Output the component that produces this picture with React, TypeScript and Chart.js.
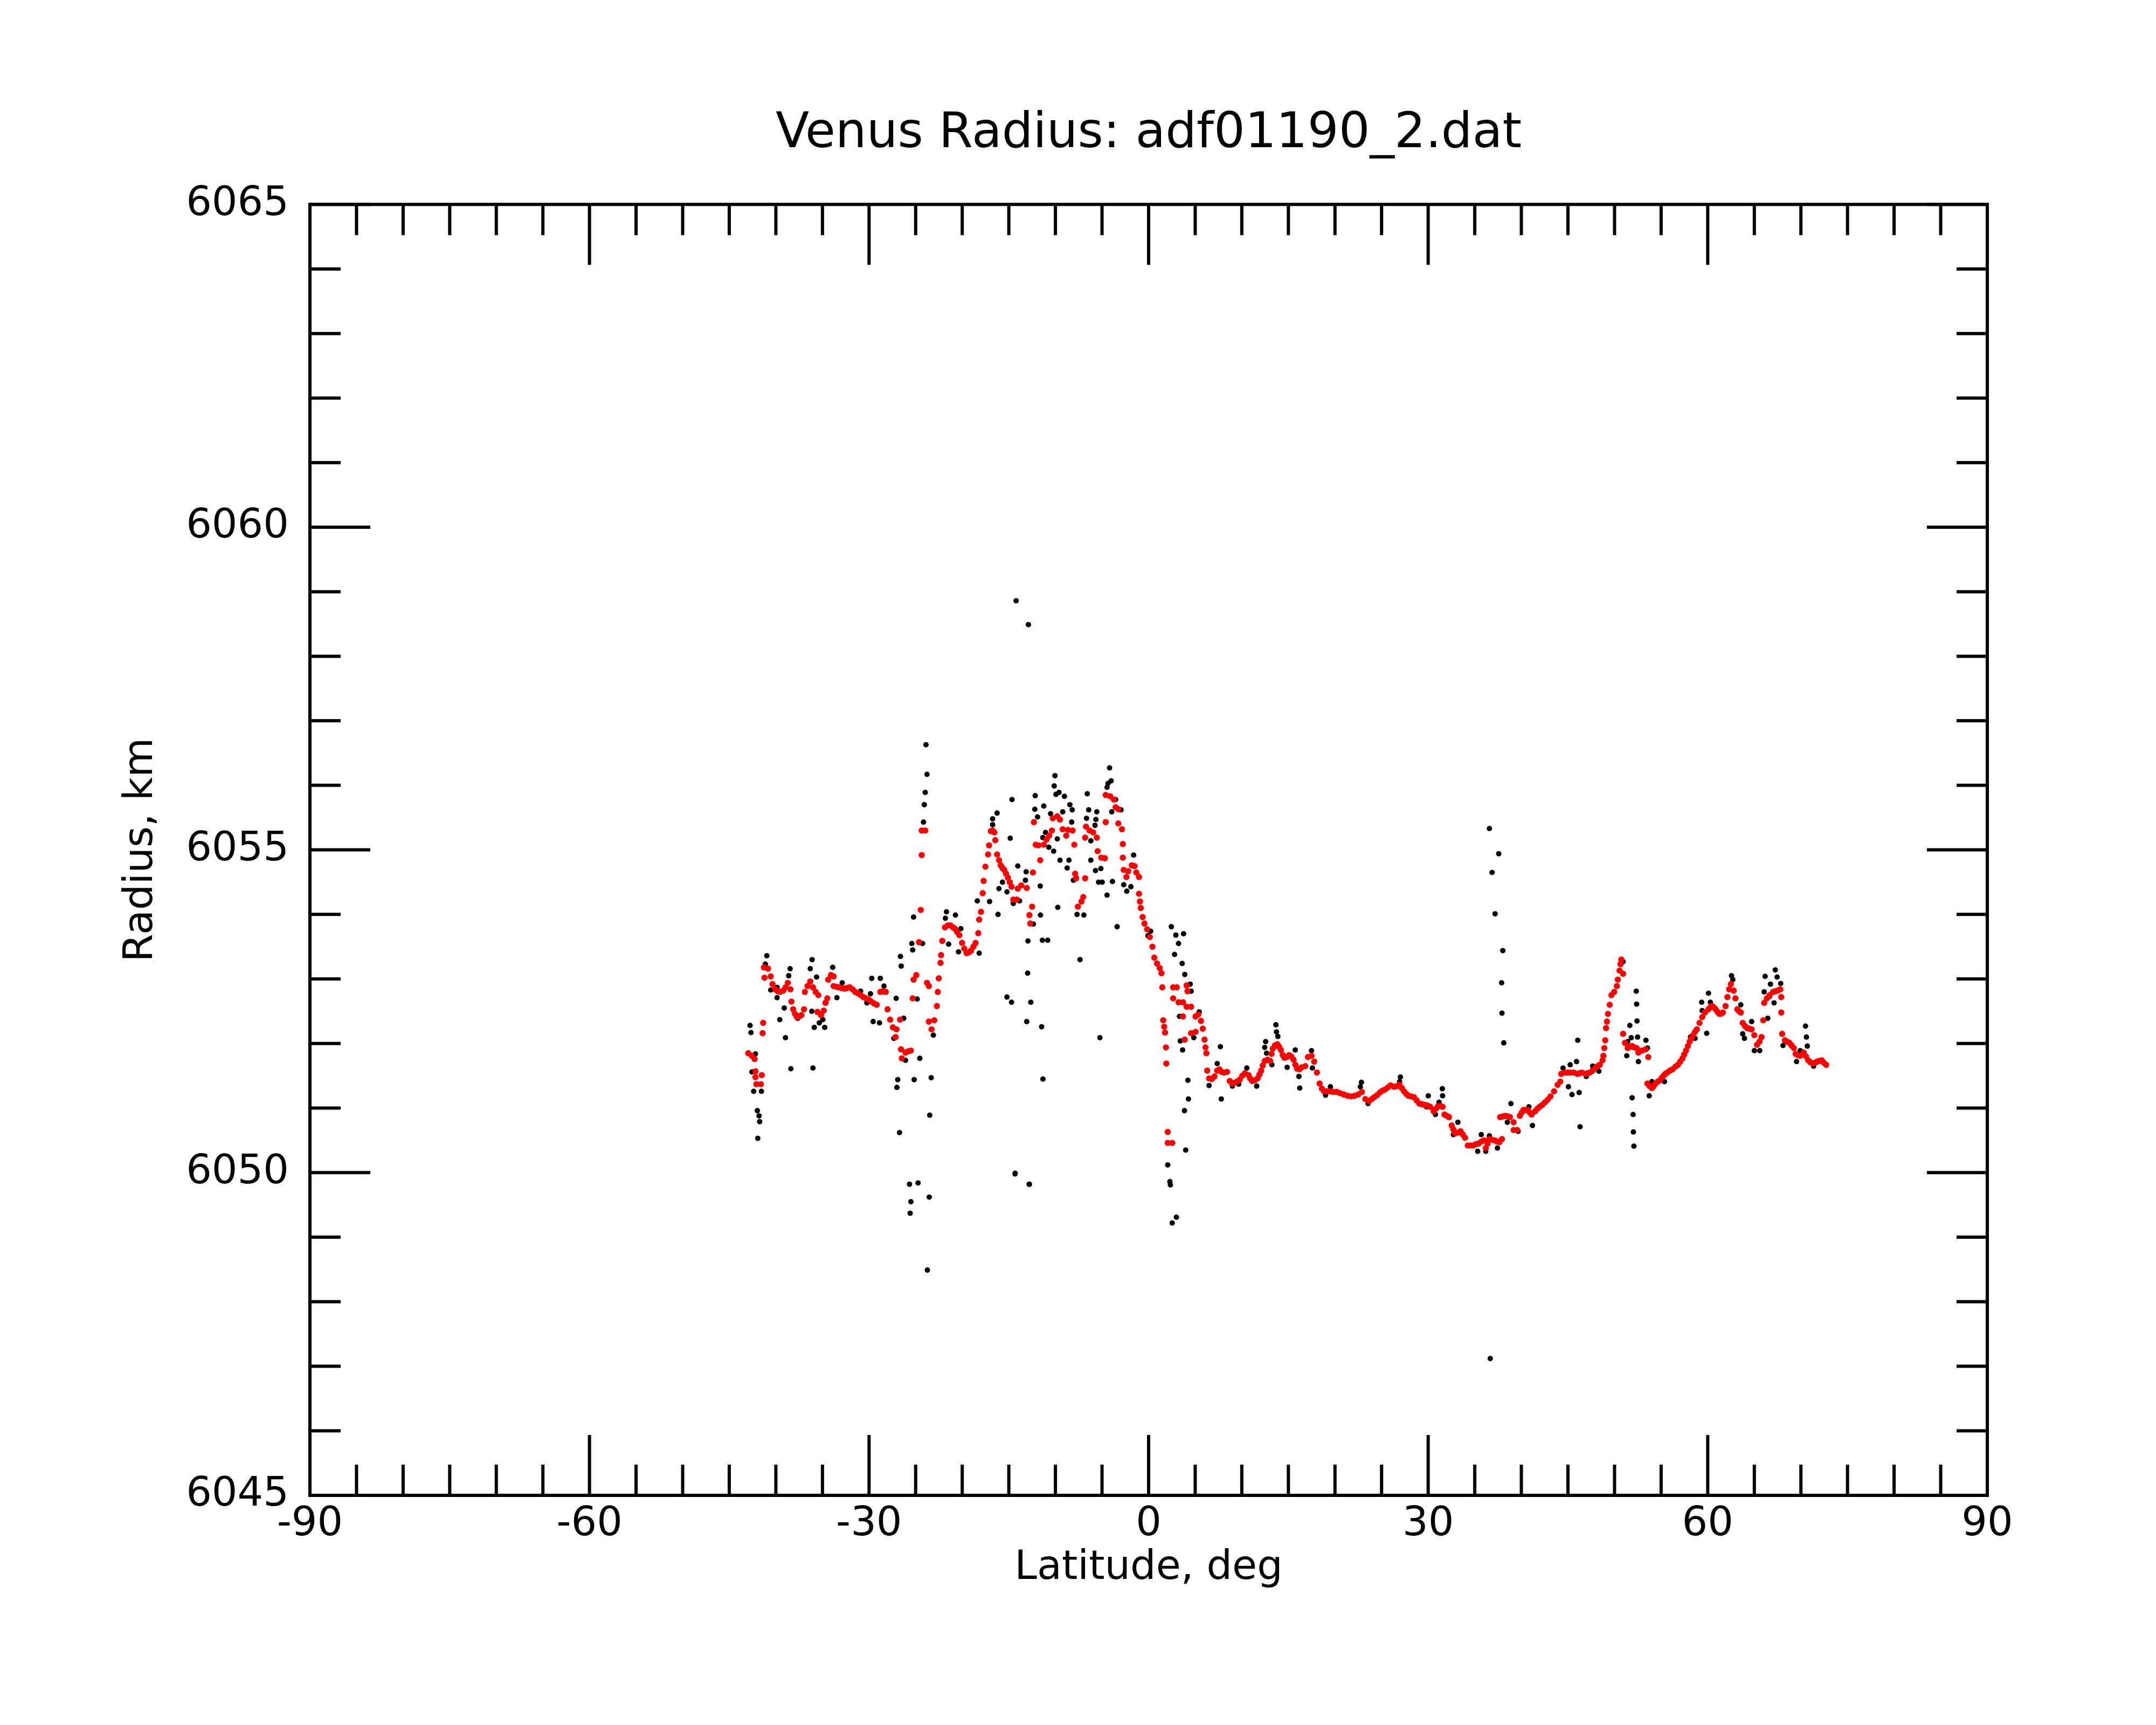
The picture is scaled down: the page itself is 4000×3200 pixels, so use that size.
import React, { useEffect, useRef } from 'react';
import Chart from 'chart.js/auto';

const titleText = 'Venus Radius: adf01190_2.dat';
const xTitle = 'Latitude, deg';
const yTitle = 'Radius, km';

const latTicks = [-90, -60, -30, 0, 30, 60, 90];
const radTicks = [6045, 6050, 6055, 6060, 6065];
const latMinorStep = 5;
const radMinorStep = 1;

// smoothed profile (red)
const smoothLat = [
  -42.96, -42.57, -42.28, -42.19, -42.19, -41.51, -42.09, -41.61, -41.36, -41.42,
  -41.28, -41.22, -40.84, -40.55, -40.36, -40.07, -39.8, -39.58, -39.2, -38.95, -38.72, -38.43,
  -38.33, -38.14, -37.95, -37.75, -37.5, -37.27, -36.98, -36.89, -36.6, -36.31, -36.02, -35.73,
  -35.44, -35.54, -35.15, -34.86, -34.67, -34.48, -34.38, -34.09, -33.8, -33.8, -33.5,
  -33.23, -32.95, -32.65, -32.36, -32.07, -31.78, -31.49, -31.2, -30.91, -30.62, -30.33,
  -30.04, -29.75, -29.46, -29.17, -28.79, -28.5, -28.21, -28.02, -27.73, -27.44, -27.05,
  -27.15, -26.67, -26.57, -26.48, -26.09, -25.8, -25.51, -25.32, -25.22, -24.93, -24.64,
  -24.45, -24.35, -24.35, -23.97, -23.78, -23.58, -23.58, -23.29, -23.0, -22.72, -22.62,
  -22.52, -22.33, -22.27, -22.14, -21.85, -21.55, -21.27, -21.0, -20.79, -20.55, -20.31, -20.02,
  -19.78, -19.53, -19.3, -19.05, -18.8, -18.57, -18.28, -18.18, -17.99, -17.8, -17.7, -17.51,
  -17.22, -17.12, -16.93, -16.75, -16.55, -16.45, -16.26, -16.05, -15.87, -15.68, -15.49, -15.3,
  -15.1, -14.9, -14.71, -14.52, -14.14, -14.04, -13.66,
  -13.08, -12.79, -12.7, -12.5, -12.41, -12.31, -12.12, -11.83, -11.63, -11.25, -10.96,
  -10.67, -10.38, -10.29, -9.8, -9.51, -9.22, -8.84, -8.65, -8.16, -7.97, -7.88, -7.78,
  -7.59, -7.2, -7.01, -6.81, -6.81, -6.72, -6.33, -5.95, -5.56, -5.47, -5.08, -4.69,
  -4.6, -4.6, -4.12, -3.73, -3.54, -3.25, -3.25, -2.86, -2.77, -2.77, -2.67, -2.38,
  -2.19, -1.8, -1.51, -1.32, -1.03, -1.03, -0.93, -0.84, -0.64, -0.45, -0.16, 0.13,
  0.41, 0.61, 0.9, 1.19, 1.38, 1.47, 1.57, 1.67, 1.76, 1.86, 1.9, 2.05, 2.05, 2.54,
  2.63, 3.02, 2.63, 3.21, 3.69, 3.69, 3.88, 4.08, 4.17, 4.08, 4.56, 4.56, 5.04, 5.04,
  5.33, 5.62, 5.81, 6.0, 6.1, 6.2, 6.29, 6.49, 6.78, 7.07, 7.36, 7.6, 7.84, 8.1, 8.42,
  8.7, 8.95, 9.19, 9.48, 9.77, 10.05, 10.34, 10.73, 10.9, 11.11, 11.4, 11.69, 11.9, 12.08,
  12.25, 12.46, 12.75, 13.04, 13.2, 13.33, 13.57, 13.81, 14.0, 14.2, 14.4, 14.58, 14.83,
  15.07, 15.3, 15.55, 15.75, 15.93, 16.18, 16.42,
  16.81, 17.1, 17.48, 17.77, 18.06, 18.35, 18.6, 18.83, 19.12, 19.41, 19.8, 20.18, 20.55,
  20.95, 21.35, 21.72, 22.1, 22.49, 22.88, 23.26, 23.65, 23.95, 24.23, 24.52, 24.81, 25.1,
  25.39, 25.68, 25.96, 26.35, 26.65, 26.93, 27.17, 27.41, 27.65, 27.89, 28.18, 28.47,
  28.76, 29.05, 29.34, 29.63, 29.92, 30.21, 30.59, 30.83, 31.07, 31.3, 31.55, 31.75,
  32.0, 32.23, 32.52, 32.7, 32.9, 33.2, 33.48, 33.72, 33.96, 34.25, 34.54, 34.83, 35.12,
  35.41, 35.7, 35.99, 36.18, 36.38, 36.57, 36.86, 37.15, 37.4, 37.63, 37.92, 37.72, 38.0,
  38.3, 38.55, 38.78, 39.17, 39.17, 39.55, 39.84, 40.03, 40.23, 40.47, 40.71, 40.9, 41.1,
  41.48, 41.72, 41.97, 42.25, 42.54, 42.83, 43.12, 43.51, 43.89, 44.18, 44.28, 44.67,
  44.95, 45.24, 45.63, 46.01, 46.25, 46.49,
  46.88, 47.12, 47.36, 47.65, 47.94, 48.18, 48.42, 48.71, 48.8, 48.9, 49.0, 49.09, 49.19,
  49.29, 49.48, 49.67, 49.96, 50.25, 50.35, 50.54, 50.64, 50.73, 50.92, 50.92, 51.12,
  51.41, 51.65, 51.89, 52.13, 52.37, 52.56, 52.95, 53.33, 53.62, 53.53, 53.77, 54.01, 54.2,
  54.4, 54.64, 54.88, 55.07, 55.26, 55.45, 55.65, 55.94, 56.23, 56.52, 56.8, 57.05, 57.29,
  57.48, 57.67, 57.87, 58.06, 58.25, 58.44, 58.63, 58.83, 59.12, 59.41, 59.7, 60.08, 60.28,
  60.47, 60.66, 60.85, 61.05, 61.24, 61.43, 61.62, 61.91, 62.11, 62.3, 62.49, 62.78, 62.97,
  63.17, 63.36, 63.55, 63.75, 64.0, 64.23, 64.47, 64.71, 65.0, 65.29, 65.55, 65.77, 65.96,
  66.06, 66.35, 66.64, 67.02, 67.27, 67.51, 67.79, 67.89, 67.89, 67.99, 68.28, 68.52,
  68.76, 69.0, 69.24, 69.43, 69.68, 69.92, 70.3, 70.55, 70.78, 71.02, 71.26, 71.5, 71.74,
  71.98, 72.23, 72.47, 72.71,
];
const smoothRad = [
  6051.85, 6051.81, 6051.76, 6051.57, 6051.48, 6051.51, 6051.37, 6051.37, 6052.32, 6052.16,
  6053.18, 6053.02, 6053.16, 6053.04, 6052.92, 6052.84, 6052.81, 6052.8, 6052.82, 6052.87, 6052.94, 6052.84,
  6052.65, 6052.53, 6052.46, 6052.41, 6052.42, 6052.44, 6052.53, 6052.8, 6052.89, 6052.96, 6052.87, 6052.8,
  6052.75, 6052.49, 6052.44, 6052.51, 6052.63, 6052.7, 6052.99, 6053.06, 6053.04, 6052.89, 6052.88,
  6052.87, 6052.86, 6052.85, 6052.86, 6052.87, 6052.84, 6052.8, 6052.78, 6052.75, 6052.72, 6052.7,
  6052.68, 6052.65, 6052.62, 6052.6, 6052.8, 6052.81, 6052.8, 6052.53, 6052.37, 6052.25, 6052.22,
  6052.1, 6052.37, 6051.91, 6051.77, 6051.86, 6051.88, 6051.89, 6052.7, 6052.99, 6053.06, 6053.57,
  6054.07, 6054.92, 6055.3, 6055.3, 6052.94, 6052.89, 6052.34, 6052.22, 6052.36, 6052.58, 6052.8,
  6053.01, 6053.25, 6053.37, 6053.59, 6053.8, 6053.83, 6053.83, 6053.8, 6053.78, 6053.73, 6053.68, 6053.56,
  6053.47, 6053.4, 6053.41, 6053.44, 6053.5, 6053.56, 6053.71, 6053.92, 6054.04, 6054.33, 6054.52, 6054.74,
  6054.93, 6055.07, 6055.29, 6055.3, 6055.27, 6055.15, 6054.93, 6054.84, 6054.76, 6054.72, 6054.69, 6054.63,
  6054.57, 6054.5, 6054.43, 6054.23, 6054.23, 6054.4, 6054.45,
  6054.41, 6053.99, 6053.86, 6054.12, 6054.65, 6055.43, 6055.08, 6055.07, 6054.84, 6055.08, 6055.16,
  6055.22, 6055.3, 6055.49, 6055.52, 6055.47, 6055.32, 6055.22, 6055.31, 6055.3, 6055.08, 6054.63, 6054.56,
  6054.12, 6054.2, 6054.27, 6054.56, 6055.19, 6055.36, 6055.3, 6055.27, 6055.19, 6054.98, 6054.88, 6054.87,
  6055.43, 6055.85, 6055.83, 6055.78, 6055.66, 6055.63, 6055.41, 6055.32, 6055.09, 6054.88, 6054.69, 6054.58,
  6054.67, 6054.76, 6054.75, 6054.65, 6054.58, 6054.32, 6054.2, 6054.1, 6053.96, 6053.86, 6053.77, 6053.65,
  6053.5, 6053.33, 6053.24, 6053.17, 6053.09, 6052.87, 6052.36, 6052.26, 6052.17, 6051.94, 6051.69, 6050.63, 6050.46, 6050.46,
  6052.87, 6052.87, 6052.7, 6052.64, 6052.64, 6052.42, 6052.06, 6052.9, 6052.81, 6052.57, 6052.57, 6052.16, 6052.18, 6052.42,
  6052.45, 6052.35, 6052.23, 6052.06, 6051.94, 6051.85, 6051.58, 6051.46, 6051.45, 6051.49, 6051.58, 6051.6, 6051.56, 6051.55, 6051.56,
  6051.42, 6051.38, 6051.39, 6051.41, 6051.44, 6051.5, 6051.54, 6051.51, 6051.46, 6051.42, 6051.43, 6051.46, 6051.52, 6051.58,
  6051.66, 6051.73, 6051.75, 6051.73, 6051.84, 6051.92, 6051.97, 6051.99, 6051.95, 6051.9, 6051.82, 6051.78, 6051.79,
  6051.82, 6051.8, 6051.75, 6051.67, 6051.61, 6051.6, 6051.63,
  6051.65, 6051.79, 6051.81, 6051.72, 6051.55, 6051.38, 6051.3, 6051.26, 6051.26, 6051.26, 6051.25, 6051.25, 6051.23,
  6051.21, 6051.19, 6051.18, 6051.19, 6051.21, 6051.25, 6051.14, 6051.11, 6051.14, 6051.17, 6051.2, 6051.24, 6051.27,
  6051.29, 6051.32, 6051.35, 6051.33, 6051.34, 6051.36, 6051.31, 6051.26, 6051.22, 6051.19, 6051.18, 6051.17,
  6051.12, 6051.07, 6051.06, 6051.05, 6051.04, 6051.02, 6050.95, 6050.99, 6051.03, 6051.03, 6051.02, 6050.9,
  6050.88, 6050.86, 6050.73, 6050.67, 6050.61, 6050.62, 6050.64, 6050.59, 6050.54, 6050.42, 6050.42, 6050.42, 6050.44,
  6050.45, 6050.48, 6050.5, 6050.38, 6050.45, 6050.52, 6050.51, 6050.5, 6050.48, 6050.47, 6050.52, 6050.86, 6050.87,
  6050.88, 6050.87, 6050.86, 6050.78, 6050.66, 6050.66, 6050.88, 6050.93, 6050.97, 6050.97, 6050.97, 6050.93, 6050.9,
  6050.95, 6050.99, 6051.02, 6051.05, 6051.09, 6051.13, 6051.18, 6051.26, 6051.36, 6051.41, 6051.53, 6051.55,
  6051.55, 6051.55, 6051.55, 6051.53, 6051.54, 6051.55,
  6051.53, 6051.54, 6051.55, 6051.58, 6051.62, 6051.65, 6051.67, 6051.74, 6051.81, 6051.93, 6052.05, 6052.24, 6052.34,
  6052.46, 6052.6, 6052.75, 6052.8, 6052.89, 6052.99, 6053.13, 6053.23, 6053.3, 6053.08, 6052.15, 6052.01,
  6051.93, 6051.95, 6051.96, 6051.94, 6051.93, 6051.86, 6051.89, 6051.91, 6051.79, 6051.38, 6051.34, 6051.31, 6051.34,
  6051.38, 6051.41, 6051.43, 6051.47, 6051.5, 6051.53, 6051.55, 6051.58, 6051.6, 6051.64, 6051.67, 6051.72, 6051.77,
  6051.83, 6051.89, 6051.96, 6052.03, 6052.08, 6052.13, 6052.18, 6052.22, 6052.32, 6052.41, 6052.48, 6052.53, 6052.56,
  6052.58, 6052.56, 6052.53, 6052.49, 6052.46, 6052.46, 6052.48, 6052.58, 6052.72, 6052.84, 6052.92, 6052.82, 6052.7,
  6052.53, 6052.5, 6052.48, 6052.32, 6052.27, 6052.24, 6052.23, 6052.22, 6052.13, 6051.98, 6052.03, 6052.1, 6052.36,
  6052.63, 6052.7, 6052.75, 6052.8, 6052.81, 6052.82, 6052.84, 6052.72, 6052.48, 6052.15, 6052.05, 6052.03,
  6052.01, 6051.97, 6051.93, 6051.84, 6051.82, 6051.81, 6051.86, 6051.8, 6051.74, 6051.71, 6051.69, 6051.7, 6051.72,
  6051.73, 6051.74, 6051.7, 6051.67,
];

// individual measurements (black)
const rawLat = [
  -42.77, -42.67, -42.19, -42.57, -42.38, -41.55, -41.99, -41.8, -41.74, -41.94, -40.97, -41.13,
  -38.47, -38.62, -39.87, -39.1, -39.58, -38.97, -38.39, -37.66, -36.11, -36.31, -35.63, -36.15,
  -35.88, -36.02, -34.76, -34.96, -33.9, -33.45, -32.88, -30.91, -30.23, -29.85, -29.71, -29.56,
  -28.88, -28.79, -28.4, -27.09, -26.63, -26.55, -26.28, -27.34, -26.09, -24.55, -26.92, -27.01,
  -25.16, -23.33, -26.73, -25.66, -24.74, -25.51, -25.59, -23.54, -23.49, -25.22, -25.41, -25.32,
  -24.26, -24.84, -23.89, -23.78, -23.97, -24.07, -24.16, -23.74, -23.1, -21.69, -21.81, -20.73,
  -20.15, -21.46, -20.4, -18.18, -18.38, -17.07, -16.74, -16.26, -16.74, -14.85, -14.66, -16.16,
  -16.06, -15.68, -15.2, -14.71, -14.33, -14.04, -14.52, -13.85, -15.2, -39.87, -40.55, -35.34,
  -14.22, -12.9, -14.32, -12.82, -11.34,
  -10.05, -10.13, -9.94, -9.61, -9.03, -12.17, -11.25, -12.21, -11.92, -10.52, -9.22, -8.45,
  -8.2, -8.26, -11.06, -9.8, -11.35, -10.71, -10.19, -9.51, -8.55, -8.74, -13.14, -13.22,
  -11.63, -8.07, -9.75, -11.6, -12.37, -12.95, -11.4, -10.83, -12.98, -7.36, -12.64, -13.08,
  -11.48, -5.23, -12.79, -7.68, -6.95, -6.58, -6.43, -6.66, -5.56, -5.66, -5.75, -6.2, -6.2,
  -5.7, -5.12, -5.37, -4.98, -3.88, -4.46, -3.38, -4.19, -4.35, -4.02, -4.46, -3.96, -2.96,
  -3.54, -1.61, -2.67, -2.34, -1.9, -0.07, 0.22, 2.44, 2.92, 3.75, 3.21, 2.79, 3.6, 3.88,
  4.46, 4.56, 5.43, 3.31, 4.85, 3.4, 3.65, 4.21, 4.27, 3.85, 3.98, 2.05, 2.34, 2.28, 2.98,
  2.53, 6.49, 7.7, 7.36, 7.8, 8.99, 9.67, 10.54, 11.6, 12.56, 12.46, 12.66, 13.66, 13.72,
  13.87, 14.87, 15.74, 16.13, 16.22, 13.23,
  17.48, 17.58, 19.51, 18.99, 22.84, 22.72, 23.55, 27.02, 26.93, 30.01, 29.82, 31.52, 31.55,
  31.17, 30.78, 33.19, 32.71, 35.7, 35.31, 36.18, 36.57, 37.43, 36.57, 37.57, 36.86, 37.18,
  38.01, 37.88, 37.92, 38.11, 38.5, 38.88, 39.65, 40.81, 41.19, 41.78, 44.47, 45.24, 45.92,
  46.05, 45.05, 45.43, 46.2, 46.3, 36.66,
  46.97, 47.65, 48.32, 50.73, 50.92, 51.64, 51.79, 51.41, 52.33, 52.37, 52.41, 52.47, 51.89,
  51.99, 52.02, 52.08, 51.31, 52.56, 53.37, 53.53, 53.72, 54.01, 55.36, 58.15, 58.64, 59.35,
  60.08, 60.28, 59.89, 59.41, 62.55, 62.69, 63.55, 63.75, 63.94, 64.71, 65.0, 65.58, 66.16,
  67.25, 67.45, 67.83, 66.73, 66.06, 67.12, 66.44, 66.64, 68.08, 70.49, 70.59, 70.69, 69.53,
  71.36, 69.92,
];
const rawRad = [
  6052.28, 6052.17, 6051.84, 6051.56, 6051.26, 6051.26, 6050.96, 6050.88, 6050.79, 6050.53, 6053.36, 6053.23,
  6053.16, 6053.05, 6052.71, 6052.55, 6052.37, 6052.09, 6051.61, 6052.39, 6053.3, 6053.16, 6053.03, 6052.5,
  6052.25, 6051.62, 6052.25, 6052.37, 6053.18, 6052.71, 6052.94, 6052.81, 6052.63, 6052.77, 6053.01, 6052.34,
  6052.32, 6053.01, 6052.89, 6052.7, 6053.35, 6053.2, 6052.39, 6052.08, 6051.74, 6051.77, 6051.44, 6051.32,
  6051.44, 6051.47, 6050.62, 6049.82, 6049.84, 6049.55, 6049.37, 6049.62, 6050.89, 6053.96, 6053.55, 6053.45,
  6053.55, 6052.69, 6056.63, 6056.17, 6055.89, 6055.7, 6055.43, 6048.49, 6052.13, 6054.04, 6053.94, 6053.99,
  6053.78, 6053.54, 6053.42, 6053.4, 6054.21, 6054.2, 6055.48, 6055.57, 6055.39, 6055.18, 6055.78, 6054.0,
  6054.4, 6054.5, 6052.72, 6052.64, 6049.98, 6054.75, 6054.17, 6054.21, 6054.35, 6052.87, 6052.83, 6052.32,
  6058.86, 6058.49, 6049.99, 6049.82, 6051.45,
  6056.15, 6055.99, 6055.86, 6055.89, 6055.83, 6055.84, 6055.68, 6055.63, 6055.51, 6055.56, 6055.59, 6055.7,
  6055.62, 6055.43, 6055.27, 6055.17, 6055.19, 6055.04, 6054.98, 6054.84, 6054.84, 6054.72, 6054.66, 6054.53,
  6054.44, 6054.53, 6054.11, 6053.99, 6053.85, 6053.59, 6053.6, 6053.6, 6053.09, 6053.3, 6052.64, 6052.34,
  6052.26, 6052.09, 6049.82, 6054.0, 6053.99, 6055.87, 6055.62, 6055.49, 6055.59, 6055.47, 6055.38, 6055.14, 6054.84,
  6054.68, 6054.71, 6054.5, 6054.5, 6054.51, 6054.3, 6053.81, 6056.27, 6056.03, 6056.07, 6055.97, 6055.59, 6055.62,
  6055.78, 6054.92, 6054.46, 6054.36, 6054.43, 6053.67, 6053.74, 6053.81, 6053.68, 6053.7, 6053.55, 6053.38, 6053.24, 6053.07,
  6052.92, 6052.81, 6052.49, 6052.42, 6052.09, 6052.04, 6051.9, 6051.43, 6051.14, 6050.96, 6050.35, 6050.12, 6049.81, 6049.86, 6049.31,
  6049.22, 6051.35, 6051.95, 6051.69, 6051.14, 6051.34, 6051.37, 6051.62, 6051.34, 6052.03, 6051.94, 6051.85, 6052.29, 6052.18,
  6052.11, 6051.63, 6051.9, 6051.49, 6051.31, 6051.67,
  6051.89, 6051.62, 6051.33, 6051.2, 6051.4, 6051.33, 6051.07, 6051.48, 6051.41, 6051.19, 6051.02, 6051.3, 6051.19,
  6051.09, 6050.9, 6050.78, 6050.59, 6050.59, 6050.33, 6050.33, 6050.57, 6050.38, 6055.33, 6054.94, 6054.65, 6054.01,
  6053.44, 6052.94, 6052.47, 6052.01, 6050.78, 6051.07, 6050.64, 6051.02, 6050.73, 6050.99, 6051.62, 6051.67, 6051.72,
  6052.05, 6051.33, 6051.21, 6051.24, 6050.71, 6047.12,
  6051.49, 6051.65, 6051.57, 6053.29, 6053.27, 6052.28, 6052.09, 6052.03, 6052.81, 6052.61, 6052.35, 6052.1, 6051.16,
  6050.9, 6050.63, 6050.41, 6051.81, 6051.72, 6052.05, 6051.93, 6051.19, 6051.41, 6051.41, 6052.1, 6052.08, 6052.64,
  6052.78, 6052.64, 6052.16, 6052.51, 6053.05, 6052.99, 6052.6, 6052.15, 6052.08, 6052.34, 6051.89, 6051.89, 6053.04,
  6053.14, 6053.03, 6052.93, 6052.92, 6052.8, 6052.63, 6052.39, 6052.73, 6051.97, 6052.27, 6052.1, 6051.96, 6051.72,
  6051.65, 6051.89,
];

const MAJOR_TICK = 112;
const MINOR_TICK = 57;
const FRAME_WIDTH = 6;
const FONT = 'DejaVu Sans';

// box with inward ticks on all four sides, placed from the scales
const frameTicks = {
  id: 'frameTicks',
  afterDatasetsDraw(chart: Chart) {
    const { ctx, chartArea: a, scales } = chart;
    const xs = scales.x;
    const ys = scales.y;
    ctx.save();
    ctx.strokeStyle = '#000';
    ctx.lineWidth = FRAME_WIDTH;
    ctx.lineCap = 'butt';
    ctx.beginPath();
    const x0 = latTicks[0], x1 = latTicks[latTicks.length - 1];
    for (let v = x0; v <= x1; v += latMinorStep) {
      const px = xs.getPixelForValue(v);
      const len = latTicks.includes(v) ? MAJOR_TICK : MINOR_TICK;
      ctx.moveTo(px, a.bottom);
      ctx.lineTo(px, a.bottom - len);
      ctx.moveTo(px, a.top);
      ctx.lineTo(px, a.top + len);
    }
    const y0 = radTicks[0], y1 = radTicks[radTicks.length - 1];
    for (let v = y0; v <= y1; v += radMinorStep) {
      const py = ys.getPixelForValue(v);
      const len = radTicks.includes(v) ? MAJOR_TICK : MINOR_TICK;
      ctx.moveTo(a.left, py);
      ctx.lineTo(a.left + len, py);
      ctx.moveTo(a.right, py);
      ctx.lineTo(a.right - len, py);
    }
    ctx.stroke();
    ctx.strokeRect(a.left, a.top, a.right - a.left, a.bottom - a.top);
    ctx.restore();
  },
};

const App: React.FC = () => {
  const canvasRef = useRef<HTMLCanvasElement>(null);

  useEffect(() => {
    if (!canvasRef.current) return;
    const smooth = smoothLat.map((x, i) => ({ x, y: smoothRad[i] }));
    const raw = rawLat.map((x, i) => ({ x, y: rawRad[i] }));

    const chart = new Chart(canvasRef.current, {
      type: 'scatter',
      data: {
        datasets: [
          {
            label: 'smoothed',
            data: smooth,
            backgroundColor: '#ff0000',
            borderWidth: 0,
            pointRadius: 5.8,
          },
          {
            label: 'raw',
            data: raw,
            backgroundColor: '#000000',
            borderWidth: 0,
            pointRadius: 5,
          },
        ],
      },
      options: {
        animation: false,
        responsive: true,
        maintainAspectRatio: false,
        devicePixelRatio: 1,
        events: [],
        layout: { padding: { left: 0, top: 0, right: 313, bottom: 0 } },
        plugins: {
          legend: { display: false },
          tooltip: { enabled: false },
          title: {
            display: true,
            fullSize: false,
            text: titleText,
            color: '#000',
            font: { family: FONT, size: 91, weight: 'normal', lineHeight: 1.2 },
            padding: { top: 195, bottom: 75 },
          },
        },
        scales: {
          x: {
            type: 'linear',
            min: latTicks[0],
            max: latTicks[latTicks.length - 1],
            afterFit: (s: any) => { s.height = 426; },
            afterBuildTicks: (s: any) => { s.ticks = latTicks.map((value) => ({ value })); },
            grid: { display: false, drawTicks: false },
            border: { display: false },
            ticks: {
              color: '#000',
              font: { family: FONT, size: 75 },
              padding: 10,
              maxRotation: 0,
              autoSkip: false,
              callback: (v: any) => String(v),
            },
            title: {
              display: true,
              text: xTitle,
              color: '#000',
              font: { family: FONT, size: 75 },
              padding: { top: 0, bottom: 245 },
            },
          },
          y: {
            type: 'linear',
            min: radTicks[0],
            max: radTicks[radTicks.length - 1],
            afterFit: (s: any) => { s.width = 575; },
            afterBuildTicks: (s: any) => { s.ticks = radTicks.map((value) => ({ value })); },
            grid: { display: false, drawTicks: false },
            border: { display: false },
            ticks: {
              color: '#000',
              font: { family: FONT, size: 75 },
              padding: 39,
              autoSkip: false,
              callback: (v: any) => String(v),
            },
            title: {
              display: true,
              text: yTitle,
              color: '#000',
              font: { family: FONT, size: 75 },
              padding: { top: 218, bottom: 0 },
            },
          },
        },
      },
      plugins: [frameTicks],
    });

    return () => chart.destroy();
  }, []);

  return (
    <div style={{ position: 'absolute', left: 0, top: 0, width: 4000, height: 3200, background: '#fff' }}>
      <canvas ref={canvasRef}></canvas>
    </div>
  );
};

export default App;
